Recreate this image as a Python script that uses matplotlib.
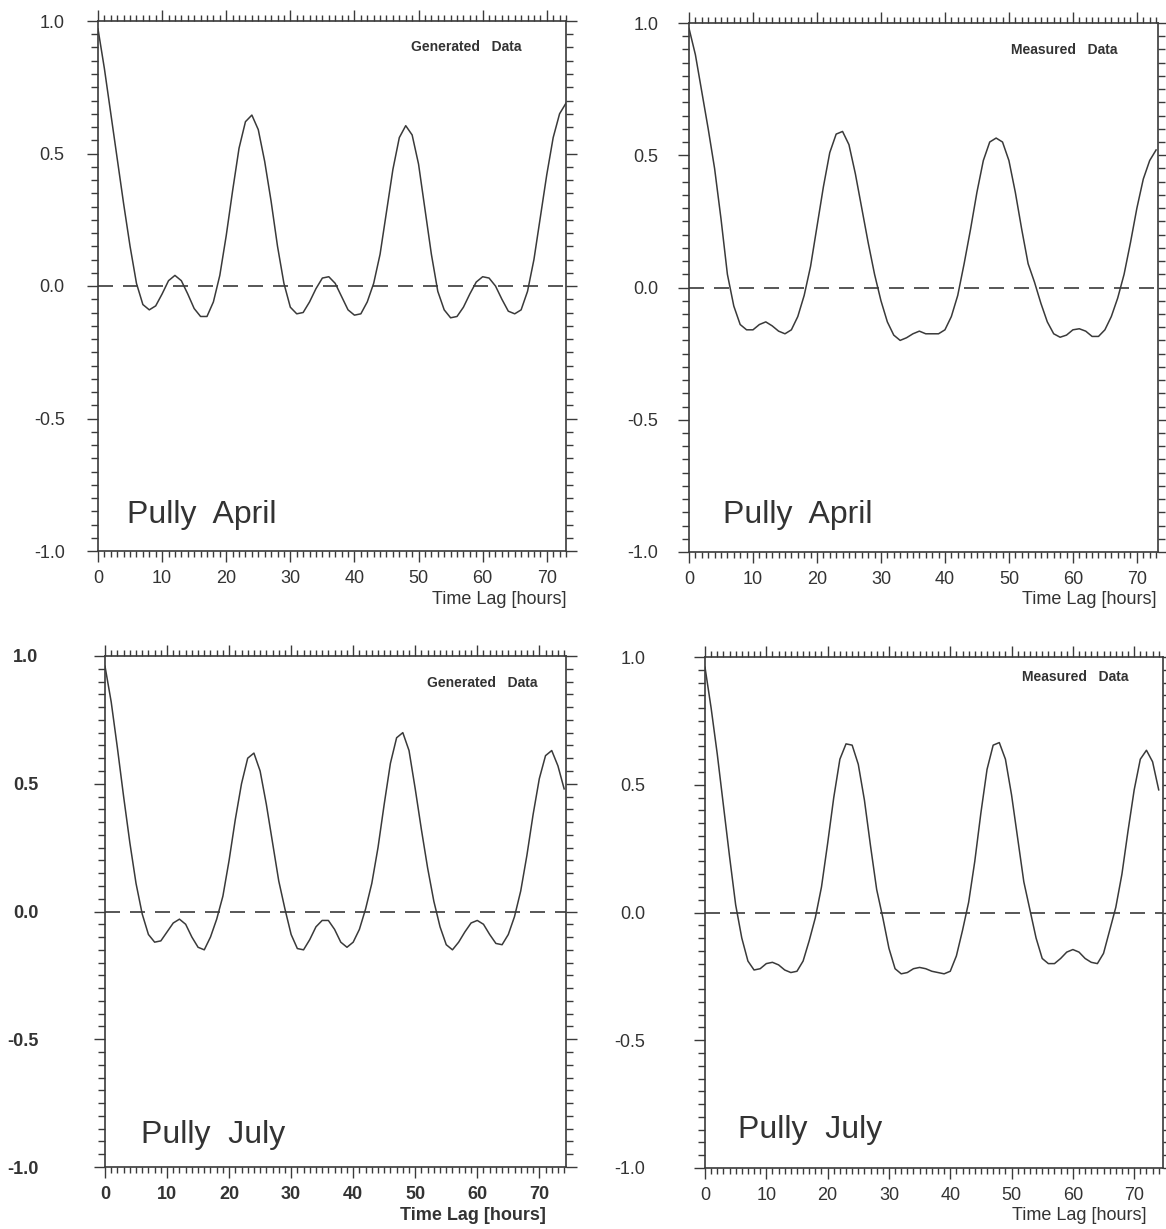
import matplotlib
matplotlib.use("Agg")
import matplotlib.pyplot as plt
from matplotlib.ticker import MultipleLocator

plt.rcParams['font.family'] = ['Liberation Sans', 'DejaVu Sans']
plt.rcParams['axes.unicode_minus'] = False

# time lag in hours, one value per hour
lag_top = list(range(0, 74))
lag_bottom = list(range(0, 75))

# autocorrelation, Pully April, generated
april_gen = [0.97, 0.82, 0.65, 0.48, 0.31, 0.15, 0.01, -0.07, -0.09, -0.075,
             -0.03, 0.02, 0.04, 0.02, -0.03, -0.085, -0.115, -0.115, -0.06, 0.04,
             0.19, 0.36, 0.52, 0.62, 0.645, 0.59, 0.47, 0.32, 0.15, 0.01,
             -0.08, -0.105, -0.10, -0.06, -0.01, 0.03, 0.035, 0.01, -0.04, -0.09,
             -0.11, -0.105, -0.06, 0.01, 0.12, 0.28, 0.44, 0.56, 0.605, 0.57,
             0.46, 0.29, 0.12, -0.02, -0.09, -0.12, -0.115, -0.08, -0.03, 0.015,
             0.035, 0.03, 0.0, -0.05, -0.095, -0.105, -0.09, -0.02, 0.10, 0.26,
             0.42, 0.56, 0.65, 0.69]

# autocorrelation, Pully April, measured
april_meas = [0.98, 0.88, 0.74, 0.60, 0.45, 0.26, 0.05, -0.07, -0.14, -0.16,
              -0.16, -0.14, -0.13, -0.145, -0.165, -0.175, -0.16, -0.11, -0.03, 0.08,
              0.23, 0.38, 0.51, 0.58, 0.59, 0.54, 0.43, 0.30, 0.17, 0.05,
              -0.05, -0.13, -0.18, -0.20, -0.19, -0.175, -0.165, -0.175, -0.175, -0.175,
              -0.16, -0.11, -0.03, 0.09, 0.22, 0.36, 0.48, 0.55, 0.565, 0.55,
              0.48, 0.36, 0.22, 0.09, 0.02, -0.06, -0.13, -0.175, -0.188, -0.18,
              -0.16, -0.156, -0.165, -0.185, -0.185, -0.16, -0.11, -0.04, 0.05, 0.17,
              0.30, 0.41, 0.48, 0.52]

# autocorrelation, Pully July, generated
july_gen = [0.96, 0.82, 0.64, 0.45, 0.27, 0.11, -0.01, -0.09, -0.12, -0.115,
            -0.08, -0.045, -0.03, -0.05, -0.10, -0.14, -0.15, -0.10, -0.03, 0.06,
            0.20, 0.36, 0.50, 0.60, 0.62, 0.55, 0.42, 0.27, 0.12, 0.01,
            -0.09, -0.145, -0.15, -0.11, -0.06, -0.035, -0.035, -0.07, -0.12, -0.14,
            -0.12, -0.07, 0.01, 0.11, 0.25, 0.42, 0.58, 0.68, 0.70, 0.63,
            0.48, 0.32, 0.17, 0.04, -0.06, -0.13, -0.15, -0.12, -0.08, -0.045,
            -0.035, -0.05, -0.09, -0.125, -0.13, -0.09, -0.02, 0.08, 0.22, 0.38,
            0.52, 0.61, 0.63, 0.57, 0.48]

# autocorrelation, Pully July, measured
july_meas = [0.96, 0.80, 0.62, 0.42, 0.22, 0.03, -0.10, -0.19, -0.225, -0.22,
             -0.20, -0.195, -0.205, -0.225, -0.235, -0.23, -0.19, -0.11, -0.02, 0.10,
             0.27, 0.45, 0.60, 0.66, 0.655, 0.58, 0.44, 0.26, 0.09, -0.02,
             -0.14, -0.22, -0.24, -0.235, -0.22, -0.215, -0.22, -0.23, -0.235, -0.24,
             -0.23, -0.17, -0.07, 0.04, 0.20, 0.39, 0.56, 0.655, 0.665, 0.60,
             0.46, 0.29, 0.12, 0.01, -0.10, -0.18, -0.20, -0.20, -0.18, -0.155,
             -0.145, -0.155, -0.18, -0.195, -0.20, -0.16, -0.07, 0.02, 0.15, 0.32,
             0.48, 0.60, 0.635, 0.59, 0.48]

x_ticks = [0, 10, 20, 30, 40, 50, 60, 70]
y_ticks = [-1.0, -0.5, 0.0, 0.5, 1.0]
y_labels = ['-1.0', '-0.5', '0.0', '0.5', '1.0']

W, H = 1166, 1229
ink = '#3a3a3a'
txt = '#333333'

fig = plt.figure(figsize=(W / 100, H / 100), dpi=100)
fig.patch.set_facecolor('white')

panels = [
    # box = left/right/top/bottom of the frame in pixels
    dict(x=lag_top, y=april_gen, kind='Generated   Data', place='Pully  April',
         box=(98, 566, 21, 551), xmax=73.0, ypad=16, kpos=(0.904, 0.951),
         ppos=(0.062, 0.068), xl=566, bold=False),
    dict(x=lag_top, y=april_meas, kind='Measured   Data', place='Pully  April',
         box=(689, 1158, 23, 552), xmax=73.3, ypad=14, kpos=(0.913, 0.949),
         ppos=(0.072, 0.070), xl=1157, bold=False),
    dict(x=lag_bottom, y=july_gen, kind='Generated   Data', place='Pully  July',
         box=(105, 566, 656, 1167), xmax=74.3, ypad=40, kpos=(0.939, 0.947),
         ppos=(0.078, 0.063), xl=546, bold=True),
    dict(x=lag_bottom, y=july_meas, kind='Measured   Data', place='Pully  July',
         box=(705, 1163, 657, 1168), xmax=74.7, ypad=35, kpos=(0.924, 0.961),
         ppos=(0.072, 0.074), xl=1146, bold=False),
]

for p in panels:
    l, r, t, b = p['box']
    ax = fig.add_axes([l / W, 1 - b / H, (r - l) / W, (b - t) / H])
    ax.plot(p['x'], p['y'], color=ink, lw=1.1)
    ax.axhline(0, color=ink, lw=1.2, ls=(0, (9, 6)))
    ax.set_xlim(0, p['xmax'])
    ax.set_ylim(-1.0, 1.0)
    ax.set_xticks(x_ticks)
    ax.set_yticks(y_ticks)
    ax.set_yticklabels(y_labels)
    ax.xaxis.set_minor_locator(MultipleLocator(1))
    ax.yaxis.set_minor_locator(MultipleLocator(0.05))
    ax.tick_params(which='both', direction='out', top=True, right=True,
                   labeltop=False, labelright=False, color=ink, width=1.0)
    ax.tick_params(which='major', length=8)
    ax.tick_params(which='minor', length=4)
    ax.tick_params(axis='y', which='minor', length=5)
    ax.tick_params(axis='x', which='major', labelsize=13, labelcolor=txt, pad=6)
    ax.tick_params(axis='y', which='major', labelsize=13, labelcolor=txt, pad=p['ypad'])
    weight = 'bold' if p['bold'] else 'normal'
    for lab in ax.get_xticklabels() + ax.get_yticklabels():
        lab.set_fontweight(weight)
    for s in ax.spines.values():
        s.set_color(ink)
        s.set_linewidth(1.2)
    ax.text(p['kpos'][0], p['kpos'][1], p['kind'], transform=ax.transAxes,
            ha='right', va='center', fontsize=10, fontweight='bold', color=txt)
    ax.text(p['ppos'][0], p['ppos'][1], p['place'], transform=ax.transAxes,
            ha='left', va='center', fontsize=23, color=txt)
    fig.text(p['xl'] / W, 1 - (b + 48) / H, 'Time Lag [hours]', ha='right',
             va='center', fontsize=13, fontweight=weight, color=txt)

fig.savefig('out.png', dpi=100, facecolor='white')
